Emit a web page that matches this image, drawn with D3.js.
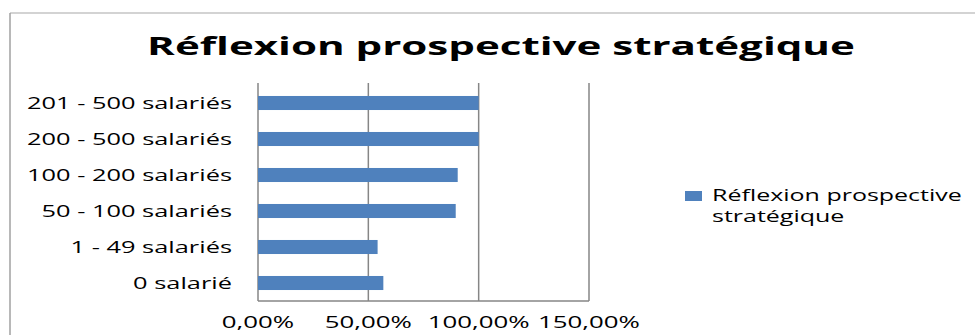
<!DOCTYPE html>
<meta charset="utf-8">
<style>
  body { margin: 0; background: #fff; }
  svg text { font-family: "Open Sans", sans-serif; fill: #000; }
  .grid line { stroke: #868686; stroke-width: 1.5px; }
  .bar { fill: #4f81bd; }
</style>
<svg width="975" height="335" id="chart"></svg>
<script src="https://d3js.org/d3.v7.min.js"></script>
<script>
// data, bottom to top like the original
var categories = ["0 salarié", "1 - 49 salariés", "50 - 100 salariés", "100 - 200 salariés", "200 - 500 salariés", "201 - 500 salariés"];
var values = [0.568, 0.542, 0.896, 0.905, 1.0, 1.0];
var tickValues = [0, 0.5, 1, 1.5];
var seriesName = "Réflexion prospective stratégique";
var title = "Réflexion prospective stratégique";

var svg = d3.select("#chart");

var fr = d3.formatLocale({decimal: ",", thousands: " ", grouping: [3], currency: ["", " €"]});
var pct = fr.format(".2%");

var x = d3.scaleLinear().domain([0, 1.5]).range([258, 589]);
var y = d3.scaleBand()
  .domain(categories.slice().reverse())
  .range([85, 301])
  .paddingInner(0.61)
  .paddingOuter(0.305);

// the original text is stretched sideways, so squeeze/stretch to match widths
function stretch(sel, width) {
  var w = sel.node().getComputedTextLength();
  return width / w;
}
function place(sel, sx, px, py) {
  sel.attr("transform", "translate(" + px + "," + py + ") scale(" + sx + ",1)");
}

// chart frame (only top and left edges are inside the picture)
svg.append("line").attr("x1", 10).attr("x2", 975).attr("y1", 13).attr("y2", 13)
  .attr("stroke", "#c4c4c4").attr("stroke-width", 1.5);
svg.append("line").attr("x1", 10).attr("x2", 10).attr("y1", 13).attr("y2", 335)
  .attr("stroke", "#a0a0a0").attr("stroke-width", 1.5);

// title
var t = svg.append("text").text(title)
  .attr("font-size", 25).attr("font-weight", "bold").attr("text-anchor", "middle");
place(t, stretch(t, 708), 501, 55);

// gridlines + axis lines
var grid = svg.append("g").attr("class", "grid");
grid.selectAll("line.v").data(tickValues).enter().append("line")
  .attr("class", "v")
  .attr("x1", d => x(d)).attr("x2", d => x(d))
  .attr("y1", 83).attr("y2", 301);
grid.append("line")
  .attr("x1", x(0)).attr("x2", x(1.5))
  .attr("y1", 301).attr("y2", 301);

// bars
svg.append("g").selectAll("rect").data(values).enter().append("rect")
  .attr("class", "bar")
  .attr("x", x(0))
  .attr("y", (d, i) => y(categories[i]))
  .attr("width", d => x(d) - x(0))
  .attr("height", y.bandwidth());

// category labels
var labels = svg.append("g").selectAll("text").data(categories).enter().append("text")
  .attr("font-size", 16).attr("text-anchor", "end")
  .text(d => d);
var sxCat = stretch(labels.filter(d => d === "201 - 500 salariés"), 205);
labels.each(function(d) {
  place(d3.select(this), sxCat, 232, y(d) + y.bandwidth() / 2 + 5.5);
});

// x tick labels
var ticks = svg.append("g").selectAll("text").data(tickValues).enter().append("text")
  .attr("font-size", 16).attr("text-anchor", "middle")
  .text(d => pct(d));
var sxTick = stretch(ticks.filter(d => d === 1.5), 102);
ticks.each(function(d) {
  place(d3.select(this), sxTick, x(d), 328);
});

// legend
var leg = svg.append("g");
leg.append("rect").attr("class", "bar")
  .attr("x", 685).attr("y", 191).attr("width", 17).attr("height", 10);
var words = seriesName.split(" ");
var l1 = leg.append("text").attr("font-size", 17).text(words.slice(0, 2).join(" "));
var l2 = leg.append("text").attr("font-size", 17).text(words.slice(2).join(" "));
var sxLeg = stretch(l1, 250);
place(l1, sxLeg, 712, 201);
place(l2, sxLeg, 712, 222);
</script>
